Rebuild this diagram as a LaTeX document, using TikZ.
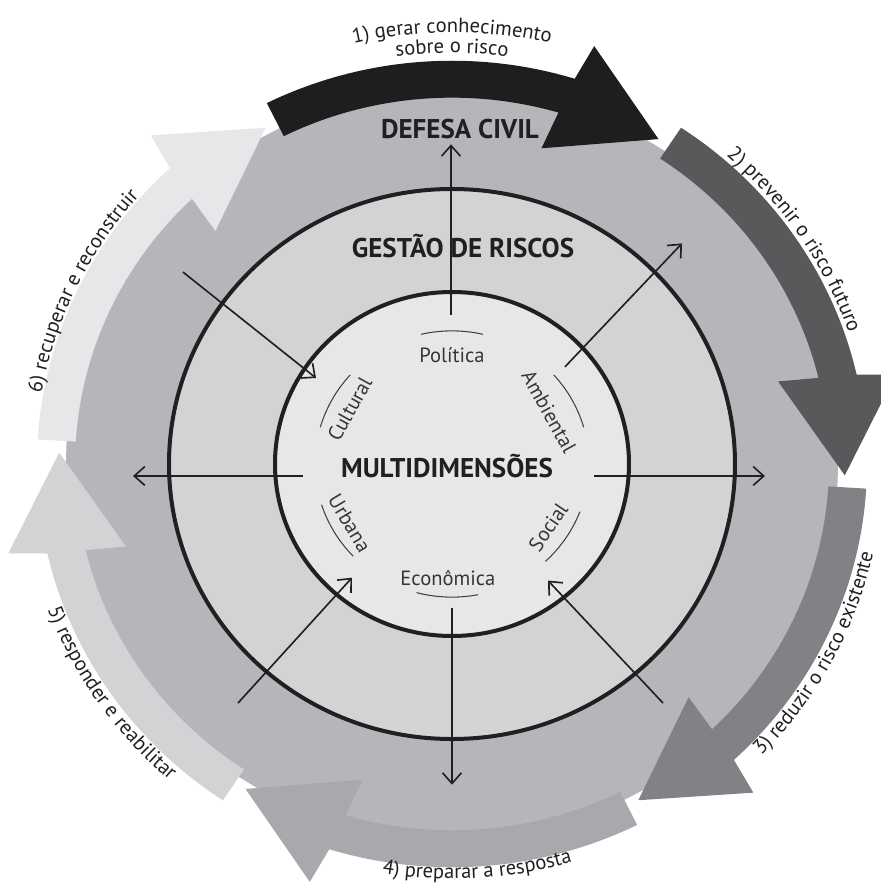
\documentclass[tikz,border=0pt]{standalone}
\usepackage{fontspec}
\setmainfont{PT Sans}
\usetikzlibrary{arrows.meta,decorations.text}

\definecolor{ink}{HTML}{231F20}
\definecolor{discgray}{HTML}{B5B6B9}
\definecolor{ringgray}{HTML}{D1D3D4}
\definecolor{coregray}{HTML}{E6E7E8}
\definecolor{stepone}{HTML}{1F1D1E}
\definecolor{steptwo}{HTML}{58595B}
\definecolor{stepthree}{HTML}{808285}
\definecolor{stepfour}{HTML}{A7A9AC}
\definecolor{stepfive}{HTML}{D1D3D4}
\definecolor{stepsix}{HTML}{E6E7E8}

\newcommand{\lblfont}{\fontsize{17.5}{19}\selectfont}
\newcommand{\dimfont}{\fontsize{17.5}{19}\selectfont}
\newcommand{\headfont}{\fontsize{23}{25}\selectfont\bfseries}

\tikzset{
  spoke/.style={ink, line width=1.4pt, -{Straight Barb[length=9pt,width=16pt,line width=1.4pt]}},
  ringline/.style={ink, line width=3.4pt},
  dimarc/.style={ink!85, line width=0.9pt},
  dimlabel/.style={ink!90, font=\dimfont, inner sep=0pt},
  head/.style={ink, font=\headfont, inner sep=0pt, anchor=base},
  steptext/.style={decorate, decoration={text along path, text align=center, text={|\lblfont\color{ink}|#1}}},
}

\begin{document}
\begin{tikzpicture}[x=0.85pt, y=0.826pt]
\useasboundingbox (-384.2pt,-358.7pt) rectangle (363.8pt,394.4pt);

\fill[discgray] (0,0) circle (386);

% the six steps of the cycle
\foreach \k/\col in {0/stepone,1/steptwo,2/stepthree,3/stepfour,4/stepfive,5/stepsix}{
  \pgfmathsetmacro\sTail{116.5-60*\k}
  \pgfmathsetmacro\sBody{72.8-60*\k}
  \pgfmathsetmacro\sNeck{73.6-60*\k}
  \pgfmathsetmacro\sBo{71.7-60*\k}
  \pgfmathsetmacro\sBi{74.6-60*\k}
  \pgfmathsetmacro\sTip{58.3-60*\k}
  \fill[\col] (\sTail:415) arc[start angle=\sTail, end angle=\sBody, radius=415]
    -- (\sBo:453) -- (\sTip:393) -- (\sBi:337) -- (\sNeck:377)
    arc[start angle=\sNeck, end angle=\sTail, radius=377] -- cycle;
}

\fill[ringgray] (0,0) circle (283);
\draw[ringline] (0,0) circle (283);
\fill[coregray] (0,0) circle (177);
\draw[ringline] (0,0) circle (177);

% spokes
\coordinate (up-a) at (-1,153);
\coordinate (up-b) at (-1,329);
\coordinate (ne-a) at (113,100);
\coordinate (ne-b) at (230,227);
\coordinate (e-a) at (142,-12.3);
\coordinate (e-b) at (313,-12.3);
\coordinate (se-a) at (211,-246);
\coordinate (se-b) at (96,-120);
\coordinate (dn-a) at (0,-148);
\coordinate (dn-b) at (0,-330);
\coordinate (sw-a) at (-214,-246);
\coordinate (sw-b) at (-100,-117);
\coordinate (w-a) at (-149,-12.3);
\coordinate (w-b) at (-319,-12.3);
\coordinate (nw-a) at (-269,197.5);
\coordinate (nw-b) at (-136,88.5);
\foreach \s in {up,ne,e,se,dn,sw,w,nw}
  \draw[spoke] (\s-a) -- (\s-b);

\node[head] (defesa) at (8,335.4) {DEFESA CIVIL};
\node[head] (gestao) at (11,212) {GESTÃO DE RISCOS};
\node[head] (multi) at (-5,-13.4) {MULTIDIMENSÕES};

% dimensions
\foreach \n/\txt/\ang/\rad/\rot in {pol/Política/90/112/0, cult/Cultural/151/117/61,
    amb/Ambiental/29/111/-61, urb/Urbana/210.8/119/-59, soc/Social/-34/116/56,
    eco/Econômica/-92/117/0}{
  \node[dimlabel, rotate=\rot] (\n) at (\ang:\rad) {\txt};
  \draw[dimarc] (\ang-13:137) arc[start angle=\ang-13, end angle=\ang+13, radius=137];
}

% step labels
\path[steptext={1) gerar conhecimento}] (140:444) arc[start angle=140, end angle=40, radius=444];
\path[steptext={sobre o risco}] (140:423) arc[start angle=140, end angle=40, radius=423];
\path[steptext={2) prevenir o risco futuro}] (73.7:419) arc[start angle=73.7, end angle=-6.3, radius=419];
\path[steptext={3) reduzir o risco existente}] (-68:431) arc[start angle=-68, end angle=12, radius=431];
\path[steptext={4) preparar a resposta}] (-126.5:427) arc[start angle=-126.5, end angle=-46.5, radius=427];
\path[steptext={5) responder e reabilitar}] (174.4:431) arc[start angle=174.4, end angle=254.4, radius=431];
\path[steptext={6) recuperar e reconstruir}] (194.5:417) arc[start angle=194.5, end angle=114.5, radius=417];
\end{tikzpicture}
\end{document}
